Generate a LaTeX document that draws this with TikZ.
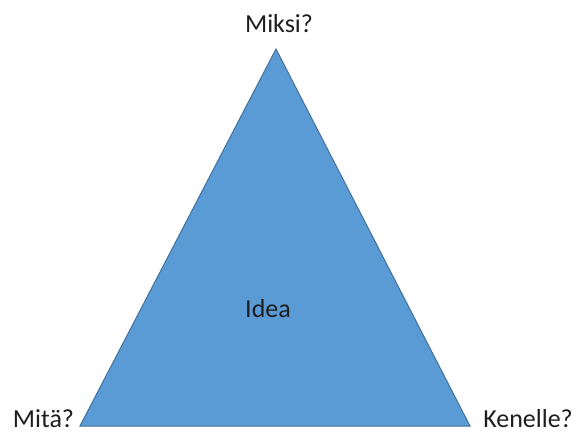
\documentclass[tikz,border=0pt]{standalone}
\usepackage{fontspec}
\setmainfont{Carlito}
\definecolor{ideafill}{RGB}{91,155,213}
\definecolor{ideaedge}{RGB}{65,113,156}
\definecolor{labeltext}{RGB}{30,30,30}
\begin{document}
\begin{tikzpicture}[x=1pt,y=-1pt,
    label/.style={anchor=base,inner sep=0pt,text=labeltext},
    font=\fontsize{26}{30}\selectfont]
      \useasboundingbox (0,0) rectangle (579,434);
      \filldraw[fill=ideafill,draw=ideaedge,line width=1pt]
        (276,49) coordinate (apex) -- (470,426) coordinate (right)
        -- (80,426) coordinate (left) -- cycle;
      \draw
        (279,32) node[label] (miksi){Miksi?}
        (43.5,427) node[label] (mita){Mitä?}
        (528,427) node[label] (kenelle){Kenelle?}
        (268,317) node[label] (idea){Idea};
    \end{tikzpicture}
\end{document}
